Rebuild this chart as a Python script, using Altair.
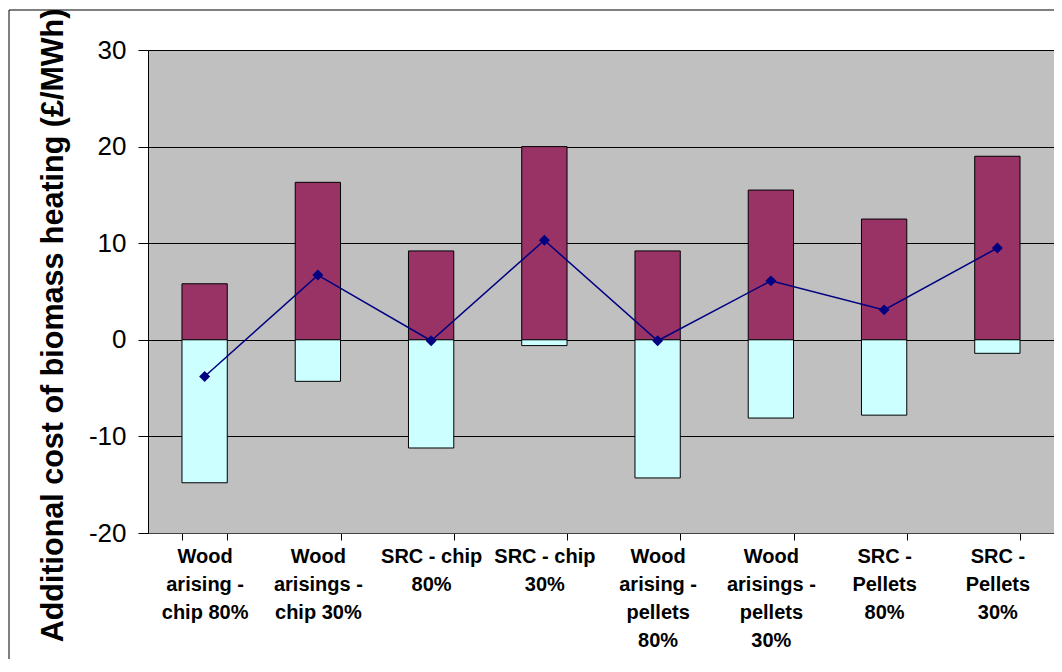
import altair as alt
import pandas as pd

# categories as shown on the x axis (\n = line break in the label)
CATEGORIES = [
    "Wood\narising -\nchip 80%",
    "Wood\narisings -\nchip 30%",
    "SRC - chip\n80%",
    "SRC - chip\n30%",
    "Wood\narising -\npellets\n80%",
    "Wood\narisings -\npellets\n30%",
    "SRC -\nPellets\n80%",
    "SRC -\nPellets\n30%",
]
UPPER = [5.8, 16.3, 9.2, 20.0, 9.2, 15.5, 12.5, 19.0]        # maroon part, above zero
LOWER = [-14.8, -4.3, -11.2, -0.6, -14.3, -8.1, -7.8, -1.4]  # cyan part, below zero
NET = [-3.8, 6.7, -0.1, 10.3, -0.1, 6.1, 3.1, 9.5]           # line with diamonds
Y_TICKS = [-20, -10, 0, 10, 20, 30]

FONT = "Liberation Sans"
W, H = 906, 483

bars = pd.DataFrame({
    "cat": CATEGORIES * 2,
    "part": ["upper"] * len(UPPER) + ["lower"] * len(LOWER),
    "value": UPPER + LOWER,
})
line = pd.DataFrame({"cat": CATEGORIES, "net": NET})

x_enc = alt.X(
    "cat:N", sort=CATEGORIES, title=None,
    scale=alt.Scale(paddingInner=0.6, paddingOuter=0.3),
    axis=alt.Axis(
        labelExpr="split(datum.label, '\\n')", labelAngle=0, labelFont=FONT,
        labelFontSize=20, labelFontWeight="bold", labelColor="black",
        labelLineHeight=28, labelPadding=6, labelOverlap=False, labelLimit=200,
        tickBand="extent", tickSize=7, tickColor="black", domainColor="#404040",
        grid=False,
    ),
)
y_scale = alt.Scale(domain=[-20, 30], nice=False, zero=False)

# outer chart border (its right and bottom edges fall outside the page, as in the original)
frame = alt.Chart(pd.DataFrame({"a": [0]})).mark_rect(
    fillOpacity=0, stroke="black", strokeWidth=1
).encode(
    x=alt.value(-139), x2=alt.value(W + 60), y=alt.value(-40), y2=alt.value(H + 200)
)

bar_layer = alt.Chart(bars).mark_bar(stroke="black", strokeWidth=1).encode(
    x=x_enc,
    y=alt.Y(
        "value:Q", stack="zero", scale=y_scale,
        title="Additional cost of biomass heating (£/MWh)",
        axis=alt.Axis(
            values=Y_TICKS, labelExpr="'' + datum.value", labelFont=FONT,
            labelFontSize=26, labelColor="black",
            labelPadding=12, tickSize=10, tickColor="black", domainColor="black",
            gridColor="black", gridWidth=1,
            titleFont=FONT, titleFontSize=30.5, titleFontWeight="bold", titleColor="black",
            titleAngle=270, titleBaseline="alphabetic", titleX=-86, titleY=275,
        ),
    ),
    color=alt.Color(
        "part:N",
        scale=alt.Scale(domain=["upper", "lower"], range=["#993366", "#CCFFFF"]),
        legend=None,
    ),
)

line_layer = alt.Chart(line).mark_line(
    color="#000080", strokeWidth=1.5,
    point=alt.OverlayMarkDef(shape="diamond", size=120, filled=True, color="#000080"),
).encode(
    x=alt.X("cat:N", sort=CATEGORIES),
    y=alt.Y("net:Q", scale=y_scale),
)

chart = (
    alt.layer(frame, bar_layer, line_layer)
    .properties(
        width=W, height=H, background="white",
        autosize=alt.AutoSizeParams(type="none"),
        padding={"left": 140, "top": 42, "right": 0, "bottom": 126},
    )
    .configure_view(fill="#C0C0C0", stroke="#808080", strokeWidth=1)
)

chart.save("out.html", embed_options={"renderer": "svg", "actions": False})
